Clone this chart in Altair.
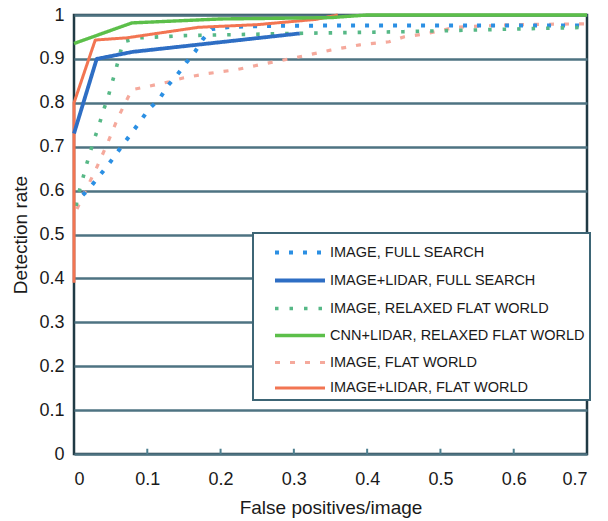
import altair as alt
import pandas as pd

series_names = [
    "IMAGE, FULL SEARCH",
    "IMAGE+LIDAR, FULL SEARCH",
    "IMAGE, RELAXED FLAT WORLD",
    "CNN+LIDAR, RELAXED FLAT WORLD",
    "IMAGE,  FLAT WORLD",
    "IMAGE+LIDAR, FLAT WORLD",
]

img_full_x = [0.012, 0.020, 0.031, 0.045, 0.056, 0.067, 0.079, 0.090, 0.102, 0.117, 0.128,
              0.141, 0.153, 0.165, 0.176, 0.188, 0.215, 0.26, 0.35, 0.5, 0.7]
img_full_y = [0.59, 0.603, 0.626, 0.655, 0.68, 0.705, 0.732, 0.757, 0.785, 0.81, 0.839,
              0.864, 0.891, 0.916, 0.945, 0.968, 0.973, 0.975, 0.976, 0.976, 0.976]

lid_full_x = [0.0, 0.031, 0.080, 0.308]
lid_full_y = [0.73, 0.90, 0.916, 0.958]

img_relax_x = [0.003, 0.005, 0.011, 0.016, 0.022, 0.027, 0.034, 0.040, 0.046, 0.052, 0.057,
               0.067, 0.09, 0.15, 0.3, 0.45, 0.6, 0.7]
img_relax_y = [0.565, 0.587, 0.621, 0.653, 0.687, 0.714, 0.748, 0.782, 0.81, 0.846, 0.875,
               0.939, 0.948, 0.953, 0.958, 0.962, 0.968, 0.972]

cnn_relax_x = [0.0, 0.079, 0.2, 0.35, 0.4, 0.7]
cnn_relax_y = [0.935, 0.982, 0.991, 0.994, 1.0, 1.0]

img_flat_x = [0.004, 0.012, 0.03, 0.045, 0.06, 0.07, 0.079, 0.10, 0.13, 0.15, 0.18, 0.22,
              0.26, 0.30, 0.35, 0.39, 0.43, 0.45, 0.48, 0.52, 0.6, 0.7]
img_flat_y = [0.558, 0.587, 0.649, 0.705, 0.766, 0.80, 0.83, 0.837, 0.848, 0.857, 0.866, 0.875,
              0.889, 0.902, 0.92, 0.932, 0.939, 0.95, 0.957, 0.972, 0.978, 0.98]

lid_flat_x = [0.0, 0.0, 0.029, 0.072, 0.17, 0.25, 0.33, 0.36]
lid_flat_y = [0.39, 0.80, 0.943, 0.948, 0.972, 0.978, 0.99, 1.0]

series_data = {
    "IMAGE,  FLAT WORLD": (img_flat_x, img_flat_y),
    "IMAGE, FULL SEARCH": (img_full_x, img_full_y),
    "IMAGE, RELAXED FLAT WORLD": (img_relax_x, img_relax_y),
    "IMAGE+LIDAR, FLAT WORLD": (lid_flat_x, lid_flat_y),
    "CNN+LIDAR, RELAXED FLAT WORLD": (cnn_relax_x, cnn_relax_y),
    "IMAGE+LIDAR, FULL SEARCH": (lid_full_x, lid_full_y),
}

colors = ["#2b8fe3", "#2e6ec4", "#56b886", "#5cbf4a", "#f5a99c", "#f27552"]
dashes = [[4, 10], [1, 0], [3.5, 11], [1, 0], [5, 10], [1, 0]]
widths = [4, 3, 3.5, 3, 8, 4]
opacities = [1, 1, 1, 1, 0.5, 1]

tick_values = [0.1, 0.2, 0.3, 0.4, 0.5, 0.6]

rows = []
order = 0
for name, (xs, ys) in series_data.items():
    for i, (x, y) in enumerate(zip(xs, ys)):
        rows.append({"series": name, "x": x, "y": y, "idx": i, "grp": order})
    order += 1
df = pd.DataFrame(rows)

ticks_df = pd.DataFrame({"x": tick_values, "y": [0] * len(tick_values),
                         "y2": [0.012] * len(tick_values)})

xscale = alt.Scale(domain=[0, 0.7], nice=False, zero=False)
yscale = alt.Scale(domain=[0, 1], nice=False)

lines = alt.Chart(df).mark_line(strokeCap="butt", strokeJoin="round", clip=False).encode(
    x=alt.X("x:Q", scale=xscale,
            axis=alt.Axis(title="False positives/image", values=[0, 0.1, 0.2, 0.3, 0.4, 0.5, 0.6, 0.7],
                          format="~g", grid=False, ticks=False, domain=False,
                          labelPadding=16, titlePadding=10)),
    y=alt.Y("y:Q", scale=yscale,
            axis=alt.Axis(title="Detection rate", values=[0, 0.1, 0.2, 0.3, 0.4, 0.5, 0.6, 0.7, 0.8, 0.9, 1],
                          format="~g", grid=True, ticks=False, domain=False,
                          labelPadding=10, titlePadding=8)),
    color=alt.Color("series:N", scale=alt.Scale(domain=series_names, range=colors),
                    legend=alt.Legend(title=None, orient="none", legendX=179, legendY=218,
                                      symbolType="M-2,0H2", symbolSize=625, labelOffset=15.5,
                                      padding=5, rowPadding=5, symbolOffset=27.5,
                                      fillColor="white", strokeColor="#3d6575",
                                      labelFontSize=14.5, labelFont="Liberation Sans",
                                      labelColor="#1a1a1a", labelLimit=400)),
    strokeDash=alt.StrokeDash("series:N", scale=alt.Scale(domain=series_names, range=dashes),
                              legend=alt.Legend(title=None)),
    strokeWidth=alt.StrokeWidth("series:N", scale=alt.Scale(domain=series_names, range=widths),
                                legend=alt.Legend(title=None)),
    opacity=alt.Opacity("series:N", scale=alt.Scale(domain=series_names, range=opacities),
                        legend=alt.Legend(title=None)),
    detail="grp:N",
    order="idx:Q",
)

tick_marks = alt.Chart(ticks_df).mark_rule(color="#4e8090", strokeWidth=2).encode(
    x=alt.X("x:Q", scale=xscale),
    y=alt.Y("y:Q", scale=yscale),
    y2="y2:Q",
)

chart = alt.layer(lines, tick_marks).properties(
    width=513, height=439,
    autosize=alt.AutoSizeParams(type="none"),
    padding={"left": 66, "top": 7, "right": 13, "bottom": 66},
    background="white",
).configure_view(
    stroke="#203a44", strokeWidth=2.5,
).configure_axis(
    labelFont="Liberation Sans", titleFont="Liberation Sans",
    labelFontSize=18, titleFontSize=19, labelColor="#1a1a1a", titleColor="#1a1a1a",
    titleFontWeight="normal", gridColor="#4e7382", gridWidth=2.5, gridOpacity=1,
).configure_legend(
    strokeWidth=2,
)

chart.save("out.html", embed_options={"renderer": "svg", "actions": False})
